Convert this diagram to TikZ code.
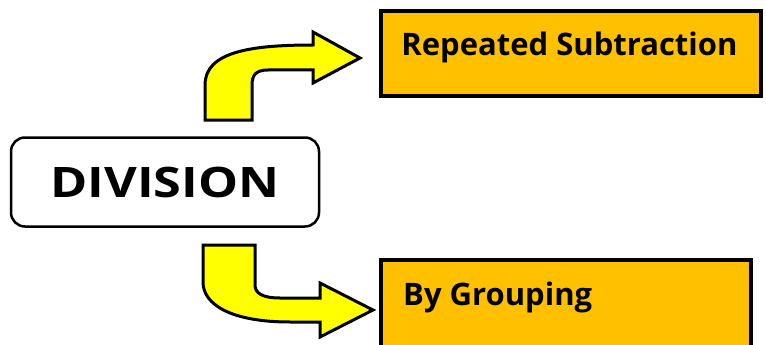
\documentclass[tikz,border=0pt]{standalone}
\usepackage{fontspec}
\setmainfont{Open Sans}
\newfontfamily\widefont[FakeStretch=1.2]{Open Sans}
\usetikzlibrary{positioning}
\definecolor{boxorange}{HTML}{FFC000}
\definecolor{arrowyellow}{HTML}{FFFF00}

\begin{document}
\begin{tikzpicture}[x=1pt, y=-1pt,
  topicbox/.style = {draw, line width=2.5pt, rounded corners=14pt, fill=white, minimum width=308pt, minimum height=89pt},
  methodbox/.style = {draw, line width=3.5pt, fill=boxorange},
  methodtext/.style = {inner sep=0pt, anchor=west, font=\bfseries\fontsize{31}{33}\selectfont},
  bentarrow/.style = {draw, line width=3pt, fill=arrowyellow, line join=miter}]
\useasboundingbox (0,0) rectangle (766,345);
% boxes
\node[topicbox] (div) at (165,182) {\widefont\bfseries\fontsize{42}{46}\selectfont DIVISION};
\node[methodbox, minimum width=380pt, minimum height=85pt] (sub) at (571,53.5) {};
\node[methodbox, minimum width=370pt, minimum height=100pt] (grp) at (566,310) {};
\node[methodtext] (subtxt) at ([xshift=22pt, yshift=6pt]sub.west) {Repeated Subtraction};
\node[methodtext] (grptxt) at (403,297) {By Grouping};
% arrows
\draw[bentarrow] (205,120) -- (205,85) .. controls (205,52) and (250,45) .. (313,45)
  -- (313,32) -- (360,58) -- (313,83) -- (313,70) -- (268,70)
  .. controls (256,70) and (252,75) .. (252,85) -- (252,120) -- cycle;
\draw[bentarrow] (203,245) -- (255,245) -- (255,285) .. controls (255,293) and (262,298) .. (280,298)
  -- (320,298) -- (320,283) -- (373,310) -- (320,337) -- (320,322) -- (290,322)
  .. controls (232,322) and (203,305) .. (203,282) -- cycle;
\end{tikzpicture}
\end{document}
